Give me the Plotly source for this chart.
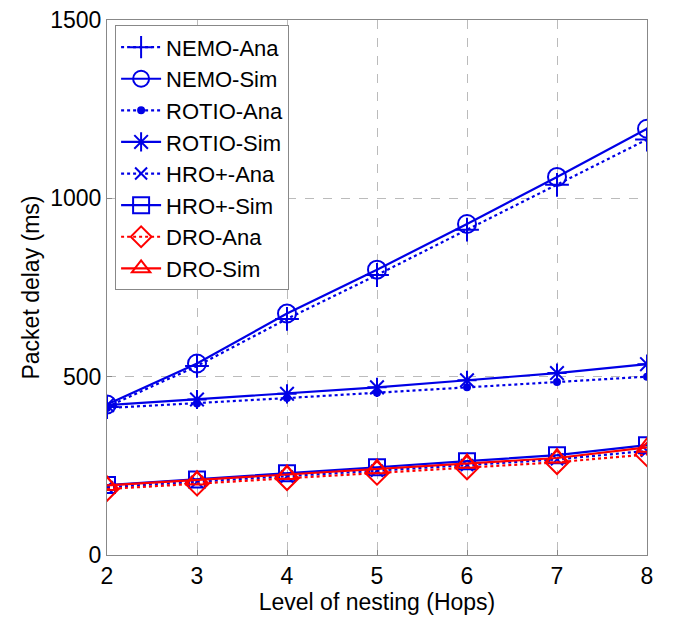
import plotly.graph_objects as go

hops = [2, 3, 4, 5, 6, 7, 8]

nemo_ana = [415, 530, 662, 785, 912, 1038, 1165]
nemo_sim = [422, 537, 677, 800, 928, 1060, 1195]
rotio_ana = [412, 425, 440, 455, 470, 485, 500]
rotio_sim = [420, 436, 452, 470, 490, 510, 535]
hro_ana = [190, 205, 220, 236, 252, 268, 292]
hro_sim = [196, 212, 229, 246, 263, 280, 308]
dro_ana = [185, 200, 215, 230, 245, 260, 282]
dro_sim = [195, 210, 226, 242, 257, 272, 302]

blue = "#0000E6"
red = "#FF0000"

series = [
    ("NEMO-Ana", nemo_ana, blue, "dot", "cross-thin-open", 17),
    ("NEMO-Sim", nemo_sim, blue, "solid", "circle-open", 18),
    ("ROTIO-Ana", rotio_ana, blue, "dot", "circle", 6),
    ("ROTIO-Sim", rotio_sim, blue, "solid", "asterisk-open", 16),
    ("HRO+-Ana", hro_ana, blue, "dot", "x-thin-open", 12),
    ("HRO+-Sim", hro_sim, blue, "solid", "square-open", 16),
    ("DRO-Ana", dro_ana, red, "dot", "diamond-open", 18),
    ("DRO-Sim", dro_sim, red, "solid", "triangle-up-open", 18),
]

fig = go.Figure()
for name, vals, col, dash, sym, size in series:
    fig.add_trace(go.Scatter(
        x=hops, y=vals, name=name, mode="lines+markers",
        line=dict(color=col, width=2.2, dash=dash),
        marker=dict(symbol=sym, size=size, color=col,
                    line=dict(color=col, width=2)),
    ))

axis_style = dict(
    showline=True, linecolor="#888888", linewidth=1, mirror=True,
    showgrid=True, gridcolor="#BBBBBB", griddash="dash", gridwidth=1,
    ticks="inside", ticklen=5, tickcolor="#888888",
    tickfont=dict(size=23, color="black"), zeroline=False,
    automargin=False, ticklabeloverflow="allow",
)

fig.update_xaxes(range=[2, 8], dtick=1,
                 title=dict(text="Level of nesting (Hops)", font=dict(size=23, color="black"), standoff=0),
                 **axis_style)
fig.update_yaxes(range=[0, 1500], tickvals=[0, 500, 1000, 1500],
                 title=dict(text="Packet delay (ms)", font=dict(size=23, color="black"), standoff=4),
                 **axis_style)

fig.update_layout(
    width=685, height=623,
    margin=dict(l=99, r=46, t=12, b=76),
    plot_bgcolor="white", paper_bgcolor="white",
    font=dict(family="Liberation Sans, Arial, sans-serif", color="black"),
    legend=dict(x=0.015, y=0.99, xanchor="left", yanchor="top",
                bgcolor="white", bordercolor="#888888", borderwidth=1,
                font=dict(size=22), tracegroupgap=0, itemwidth=40),
    showlegend=True,
)

fig.write_html("out.html")
